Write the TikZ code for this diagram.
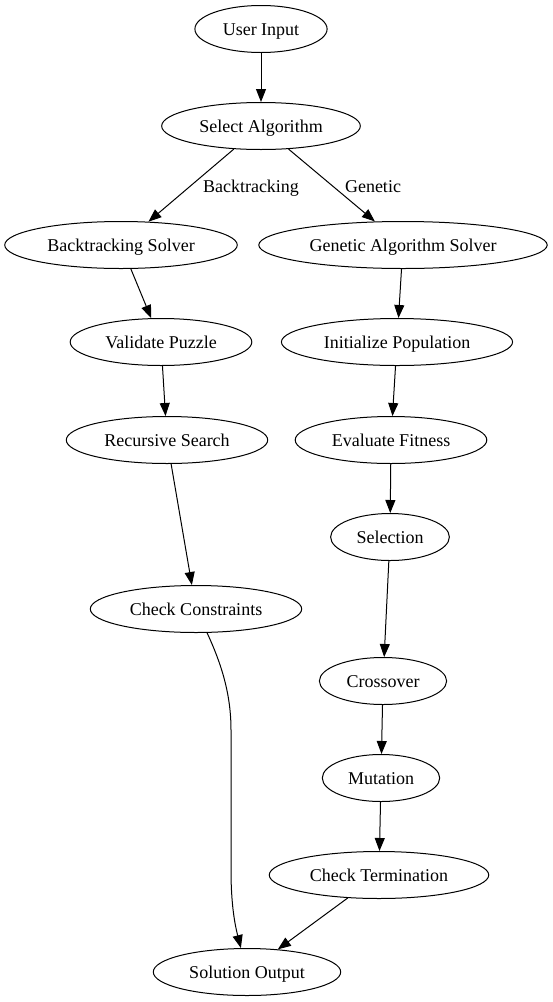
\documentclass[tikz,border=0pt]{standalone}
\usepackage{fontspec}
\setmainfont{Liberation Serif}
\usepackage{tikz}
\usetikzlibrary{shapes.geometric,arrows.meta}

\begin{document}
\begin{tikzpicture}[
  x=1pt,y=-1pt,
  font=\fontsize{18}{21}\selectfont,
  stage/.style={draw,ellipse,line width=1pt,minimum height=47pt,inner xsep=8.5pt,inner ysep=2pt,text height=17pt,text depth=4pt},
  lbl/.style={inner sep=1pt,text height=17pt,text depth=4pt},
  ar/.style={-{Triangle[length=13pt,width=10pt]},line width=1pt}
]
\useasboundingbox (0,0) rectangle (552,1002);
\node[stage] (in) at (261,29) {User Input};
\node[stage] (sel) at (261,126) {Select Algorithm};
\node[stage] (bt) at (121,245) {Backtracking Solver};
\node[stage] (ga) at (403,245) {Genetic Algorithm Solver};
\node[stage] (val) at (161,342) {Validate Puzzle};
\node[stage] (init) at (397,342) {Initialize Population};
\node[stage] (rec) at (167,440) {Recursive Search};
\node[stage] (fit) at (391,440) {Evaluate Fitness};
\node[stage] (pick) at (390,537) {Selection};
\node[stage] (chk) at (196,609) {Check Constraints};
\node[stage] (cross) at (383,681) {Crossover};
\node[stage] (mut) at (381,778) {Mutation};
\node[stage] (term) at (379,875) {Check Termination};
\node[stage] (out) at (247,972) {Solution Output};
\node[lbl] (lbt) at (251,186) {Backtracking};
\node[lbl] (lga) at (373,186) {Genetic};
\draw[ar] (in) -- (sel);
\draw[ar] (sel) -- (bt); \draw[ar] (sel) -- (ga);
\draw[ar] (bt) -- (val); \draw[ar] (val) -- (rec); \draw[ar] (rec) -- (chk);
\draw[ar] (chk) .. controls (222,665) and (231,695) .. (231,730) -- (231,870)
  .. controls (231,905) and (235,925) .. (out);
\draw[ar] (ga) -- (init); \draw[ar] (init) -- (fit); \draw[ar] (fit) -- (pick);
\draw[ar] (pick) -- (cross); \draw[ar] (cross) -- (mut); \draw[ar] (mut) -- (term);
\draw[ar] (term) -- (out);
\end{tikzpicture}
\end{document}
